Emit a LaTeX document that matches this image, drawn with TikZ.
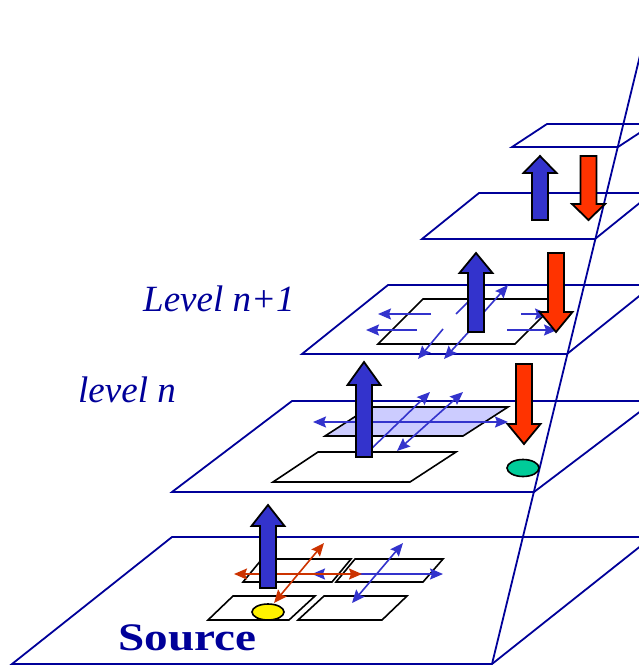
\documentclass[tikz,border=0pt]{standalone}
\usepackage{fontspec}
\setmainfont{Liberation Serif}
\usetikzlibrary{arrows.meta}
\definecolor{navy}{HTML}{000099}
\definecolor{ablue}{HTML}{3333CC}
\definecolor{ared}{HTML}{FF3300}
\definecolor{tred}{HTML}{CC3300}
\definecolor{lav}{HTML}{CCCCFF}
\definecolor{gteal}{HTML}{00CC99}
\newcommand\fatarrow[5]{%
  \filldraw[fill=#1,draw=black,line width=1.8pt,line join=miter]
    (#2-8,#3) -- (#2-8,#4) -- (#2-16.5,#4) -- (#2,#5) -- (#2+16.5,#4)
    -- (#2+8,#4) -- (#2+8,#3) -- cycle;}
\begin{document}
\begin{tikzpicture}[x=1pt,y=-1pt,
  plane/.style={draw=navy,line width=1.8pt,line join=miter},
  cell/.style={draw=black,fill=white,line width=1.6pt},
  tb/.style={draw=ablue,line width=1.6pt},
  tr/.style={draw=tred,line width=1.6pt},
  >={Stealth[length=13pt,width=11pt,inset=2pt]},
  lbl/.style={anchor=base west,inner sep=0pt,text=navy}]
\useasboundingbox (0,0) rectangle (639,666);
\clip (0,0) rectangle (639,666);
% planes
\draw[plane] (12,664) -- (492,664) -- (652,537) -- (172,537) -- cycle;
\draw[plane] (172,492) -- (534,492) -- (654,401) -- (292,401) -- cycle;
\draw[plane] (302,354) -- (567,354) -- (653,285) -- (388,285) -- cycle;
\draw[plane] (422,239) -- (595,239) -- (652,193) -- (479,193) -- cycle;
\draw[plane] (512,147) -- (618,147) -- (653,124) -- (547,124) -- cycle;
% vertical plane edge
\coordinate (vb) at (492,664);
\coordinate (vt) at (645,35);
\draw[plane] (vb) -- (vt);
% source cells
\draw[cell] (208,620) -- (289,620) -- (315,596) -- (233,596) -- cycle;
\draw[cell] (298,620) -- (382,620) -- (407,596) -- (324,596) -- cycle;
\draw[cell] (243,582) -- (332,582) -- (351,559) -- (262,559) -- cycle;
\draw[cell] (336,582) -- (423,582) -- (443,559) -- (355,559) -- cycle;
\draw[draw=black,fill=yellow,line width=1.6pt] (268,612) ellipse [x radius=16,y radius=8];
% level n cells
\draw[cell] (273,482) -- (410,482) -- (456,452) -- (318,452) -- cycle;
\draw[cell,fill=lav] (325,436) -- (463,436) -- (508,407) -- (370,407) -- cycle;
\draw[draw=black,fill=gteal,line width=1.6pt] (523,468) ellipse [x radius=16,y radius=8.5];
% level n+1 cell
\draw[cell] (378,344) -- (515,344) -- (560,299) -- (423,299) -- cycle;
% thin arrows source
\draw[tb,<->] (312,574) -- (443,574);
\draw[tb,<->] (352,603) -- (403,543);
\draw[tr,<->] (234,574) -- (362,574);
\draw[tr,<->] (274,603) -- (324,543);
% thin arrows level n
\draw[tb,<->] (313,422) -- (508,422);
\draw[tb,->] (368,452) -- (430,392);
\draw[tb,<->] (397,451) -- (463,392);
% thin arrows level n+1
\draw[tb,->] (431,314) -- (378,314);
\draw[tb,->] (417,330) -- (366,330);
\draw[tb,->] (521,314) -- (548,314);
\draw[tb,->] (507,330) -- (557,330);
\draw[tb] (456,314) -- (470,300);
\draw[tb,->] (484,312) -- (508,285);
\draw[tb,->] (443,329) -- (418,359);
\draw[tb,->] (474,326) -- (444,359);
% fat arrows
\fatarrow{ablue}{268}{588}{526}{505}
\fatarrow{ablue}{364}{457}{385}{362}
\fatarrow{ablue}{476}{332}{273}{253}
\fatarrow{ablue}{540}{220}{173}{156}
\fatarrow{ared}{524}{364}{424}{444}
\fatarrow{ared}{556}{253}{312}{332}
\fatarrow{ared}{588.5}{156}{204}{220}
% labels
\node[lbl,font=\itshape\fontsize{37}{40}\selectfont] (lvn1) at (143,311) {Level n+1};
\node[lbl,font=\itshape\fontsize{37}{40}\selectfont] (lvn) at (78,402) {level n};
\node[lbl,font=\bfseries\fontsize{39}{42}\selectfont,xscale=1.21] (src) at (118,650) {Source};
\end{tikzpicture}
\end{document}
